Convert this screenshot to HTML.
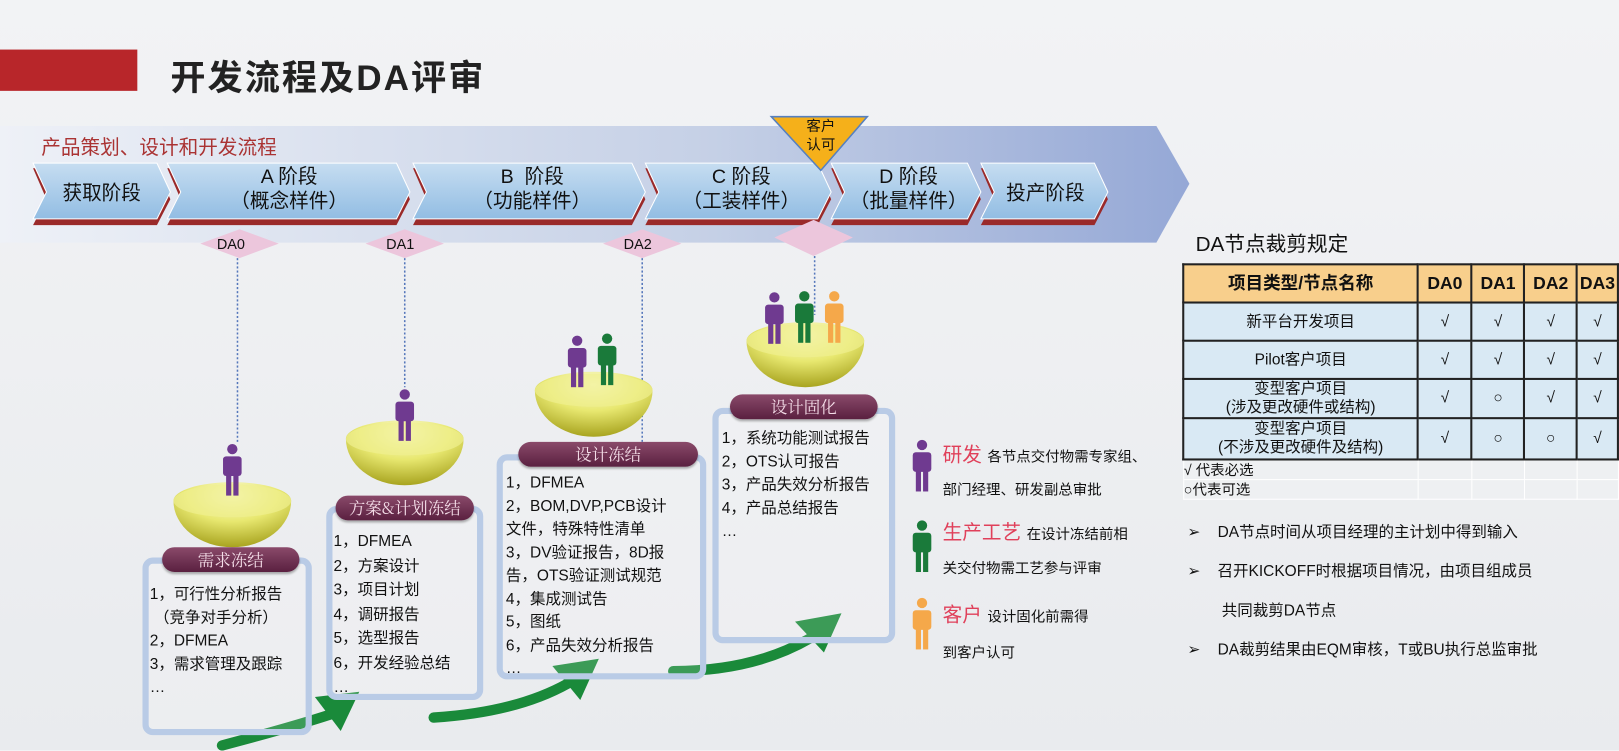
<!DOCTYPE html>
<html><head><meta charset="utf-8"><style>
*{margin:0;padding:0;box-sizing:border-box}
body{width:1619px;height:750px;overflow:hidden;position:relative;background:linear-gradient(180deg,#f2f3f5,#e9ebee);font-family:"Liberation Sans","Noto Sans CJK SC",sans-serif;color:#111}
#w{position:absolute;left:0;top:0;width:1568px;height:727px;transform:scale(1.0325);transform-origin:0 0}
.a{position:absolute}
.t{font-size:15px;line-height:22.5px;white-space:nowrap}
.pill{position:absolute;height:24px;border-radius:12px;background:linear-gradient(#8a4a6a,#5a2040);color:#f4dde8;font-family:"Noto Serif CJK SC",serif;font-size:16px;text-align:center;line-height:24px;box-shadow:0 2px 2px rgba(0,0,0,.3)}
.box{position:absolute;border:6px solid #b9cbe6;border-radius:10px;background:rgba(255,255,255,.15)}
table{border-collapse:collapse;position:absolute;left:1145px;top:255px;font-size:15px}
td{border:2px solid #222;text-align:center;background:#d9e9f4;line-height:18px}
tr.h td{background:#f8cf8c;font-weight:bold;font-size:17px;height:37px}
.lg td{border:1px solid #fff;background:#eef0f2;text-align:left;height:18px;font-size:14px}
.s{font-size:14px;color:#111;white-space:nowrap}
</style></head><body><div id="w">
<svg class="a" style="left:0;top:0" width="1568" height="727">
<defs>
<linearGradient id="band" x1="0" x2="1"><stop offset="0" stop-color="#eef1f7"/><stop offset=".6" stop-color="#c5d0e6"/><stop offset="1" stop-color="#95a8d6"/></linearGradient>
<linearGradient id="chev" x1="0" y1="0" x2="0" y2="1"><stop offset="0" stop-color="#c6ddf1"/><stop offset="1" stop-color="#92bde3"/></linearGradient>
<radialGradient id="bowl" cx=".5" cy=".2" r=".8"><stop offset="0" stop-color="#fbfbd8"/><stop offset=".5" stop-color="#e8e870"/><stop offset="1" stop-color="#a8a420"/></radialGradient>
<g id="pp"><circle cx="10" cy="5" r="5"/><rect x="1" y="12" width="18" height="19" rx="3"/><rect x="4" y="29" width="5" height="21"/><rect x="11" y="29" width="5" height="21"/></g>
<g id="bw"><path d="M-57 0 A57 18 0 0 1 57 0 A57 45 0 0 1 -57 0Z" fill="url(#bowl)"/><ellipse cx="0" cy="0" rx="57" ry="16" fill="#f0f090" opacity=".7"/></g>
</defs>
<rect x="0" y="48" width="133" height="40" fill="#b8262a"/>
<path d="M0 122 H1120 L1152 178 L1120 235 H0Z" fill="url(#band)"/>
<g fill="#9a2a2a">
<path d="M32 163 H152 L165 193 L152 218 H32 L45 193Z"/>
<path d="M162 163 H384 L397 193 L384 218 H162 L175 193Z"/>
<path d="M400 163 H612 L625 193 L612 218 H400 L413 193Z"/>
<path d="M625 163 H792 L805 193 L792 218 H625 L638 193Z"/>
<path d="M805 163 H937 L950 193 L937 218 H805 L818 193Z"/>
<path d="M950 163 H1060 L1073 193 L1060 218 H950 L963 193Z"/>
</g>
<g fill="url(#chev)" stroke="#fff" stroke-width="1">
<path d="M32 158 H152 L165 186 L152 212 H32 L45 186Z"/>
<path d="M162 158 H384 L397 186 L384 212 H162 L175 186Z"/>
<path d="M400 158 H612 L625 186 L612 212 H400 L413 186Z"/>
<path d="M625 158 H792 L805 186 L792 212 H625 L638 186Z"/>
<path d="M805 158 H937 L950 186 L937 212 H805 L818 186Z"/>
<path d="M950 158 H1060 L1073 186 L1060 212 H950 L963 186Z"/>
</g>
<path d="M747 113 H840 L795 165Z" fill="#f5b01a" stroke="#5580c0" stroke-width="1.5"/>
<g fill="#ecc6dc"><path d="M232 222 L270 236 L232 250 L194 236Z"/><path d="M392 222 L430 236 L392 250 L354 236Z"/><path d="M622 222 L660 236 L622 250 L584 236Z"/><path d="M788 213 L826 230 L788 248 L750 230Z"/></g>
<g stroke="#5577bb" stroke-width="1.5" stroke-dasharray="2 2" fill="none"><path d="M230 250 V430"/><path d="M392 250 V375"/><path d="M622 250 V428"/><path d="M789 248 V305"/></g>
<g fill="none" stroke="#1a8a3a" stroke-width="10" stroke-linecap="round"><path d="M215 722 Q280 705 320 692"/><path d="M420 695 Q500 690 550 662"/><path d="M652 650 Q730 650 785 618"/></g>
<g fill="#1a8a3a"><path d="M305 675 L348 670 L330 708Z"/><path d="M535 645 L580 638 L562 678Z"/><path d="M770 602 L815 594 L798 632Z"/></g>
<use href="#bw" x="225" y="485"/><use href="#bw" x="392" y="425"/><use href="#bw" x="575" y="378"/><use href="#bw" x="780" y="330"/>
<use href="#pp" x="215" y="430" fill="#6f3a90"/>
<use href="#pp" x="382" y="377" fill="#6f3a90"/>
<use href="#pp" x="549" y="325" fill="#6f3a90"/><use href="#pp" x="578" y="323" fill="#1a7a3a"/>
<use href="#pp" x="740" y="283" fill="#6f3a90"/><use href="#pp" x="769" y="282" fill="#1a7a3a"/><use href="#pp" x="798" y="282" fill="#f5a84a"/>
<use href="#pp" x="883" y="426" fill="#6f3a90"/>
<use href="#pp" x="883" y="504" fill="#1a7a3a"/>
<use href="#pp" x="883" y="579" fill="#f5a84a"/>
</svg>
<div class="a" style="left:165px;top:48px;font-size:34px;font-weight:bold;letter-spacing:2px;color:#222">开发流程及DA评审</div>
<div class="a" style="left:40px;top:128px;font-size:19px;color:#a33">产品策划、设计和开发流程</div>
<div class="a" style="left:32px;top:172px;width:133px;text-align:center;font-size:19px">获取阶段</div>
<div class="a" style="left:170px;top:160px;width:220px;text-align:center;font-size:19px;line-height:24px">A 阶段<br>（概念样件）</div>
<div class="a" style="left:408px;top:160px;width:215px;text-align:center;font-size:19px;line-height:24px">B &nbsp;阶段<br>（功能样件）</div>
<div class="a" style="left:633px;top:160px;width:170px;text-align:center;font-size:19px;line-height:24px">C 阶段<br>（工装样件）</div>
<div class="a" style="left:810px;top:160px;width:140px;text-align:center;font-size:19px;line-height:24px">D 阶段<br>（批量样件）</div>
<div class="a" style="left:955px;top:172px;width:115px;text-align:center;font-size:19px">投产阶段</div>
<div class="a" style="left:770px;top:113px;font-size:14px;line-height:18px;text-align:center;width:50px">客户<br>认可</div>
<div class="a" style="left:210px;top:228px;font-size:14px">DA0</div>
<div class="a" style="left:374px;top:228px;font-size:14px">DA1</div>
<div class="a" style="left:604px;top:228px;font-size:14px">DA2</div>

<div class="box" style="left:138px;top:540px;width:164px;height:172px"></div>
<div class="pill" style="left:157px;top:530px;width:133px">需求冻结</div>
<div class="a t" style="left:145px;top:565px">1，可行性分析报告<br>&nbsp;（竞争对手分析）<br>2，DFMEA<br>3，需求管理及跟踪<br>…</div>
<div class="box" style="left:316px;top:490px;width:152px;height:188px"></div>
<div class="pill" style="left:325px;top:480px;width:134px">方案&amp;计划冻结</div>
<div class="a t" style="left:323px;top:513px;line-height:23.5px">1，DFMEA<br>2，方案设计<br>3，项目计划<br>4，调研报告<br>5，选型报告<br>6，开发经验总结<br>…</div>
<div class="box" style="left:481px;top:440px;width:203px;height:218px"></div>
<div class="pill" style="left:502px;top:428px;width:174px">设计冻结</div>
<div class="a t" style="left:490px;top:457px">1，DFMEA<br>2，BOM,DVP,PCB设计<br>文件，特殊特性清单<br>3，DV验证报告，8D报<br>告，OTS验证测试规范<br>4，集成测试告<br>5，图纸<br>6，产品失效分析报告<br>…</div>
<div class="box" style="left:690px;top:395px;width:177px;height:228px"></div>
<div class="pill" style="left:707px;top:382px;width:143px">设计固化</div>
<div class="a t" style="left:699px;top:414px">1，系统功能测试报告<br>2，OTS认可报告<br>3，产品失效分析报告<br>4，产品总结报告<br>…</div>

<div class="a" style="left:913px;top:426px;font-size:19px;color:#e0405a;white-space:nowrap">研发 <span class="s">各节点交付物需专家组、</span></div>
<div class="a s" style="left:913px;top:464px">部门经理、研发副总审批</div>
<div class="a" style="left:913px;top:501px;font-size:19px;color:#e0405a;white-space:nowrap">生产工艺 <span class="s">在设计冻结前相</span></div>
<div class="a s" style="left:913px;top:540px">关交付物需工艺参与评审</div>
<div class="a" style="left:913px;top:581px;font-size:19px;color:#e0405a;white-space:nowrap">客户 <span class="s">设计固化前需得</span></div>
<div class="a s" style="left:913px;top:622px">到客户认可</div>

<div class="a" style="left:1158px;top:220px;font-size:20px">DA节点裁剪规定</div>
<table>
<tr class="h"><td style="width:253px">项目类型/节点名称</td><td style="width:54px">DA0</td><td style="width:53px">DA1</td><td style="width:53px">DA2</td><td style="width:40px">DA3</td></tr>
<tr><td style="height:37px">新平台开发项目</td><td>√</td><td>√</td><td>√</td><td>√</td></tr>
<tr><td style="height:37px">Pilot客户项目</td><td>√</td><td>√</td><td>√</td><td>√</td></tr>
<tr><td style="height:38px">变型客户项目<br>(涉及更改硬件或结构)</td><td>√</td><td>○</td><td>√</td><td>√</td></tr>
<tr><td style="height:40px">变型客户项目<br>(不涉及更改硬件及结构)</td><td>√</td><td>○</td><td>○</td><td>√</td></tr>
<tr class="lg"><td>√ 代表必选</td><td></td><td></td><td></td><td></td></tr>
<tr class="lg"><td>○代表可选</td><td></td><td></td><td></td><td></td></tr>
</table>
<div class="a" style="left:1150px;top:497px;font-size:15px;line-height:38px;white-space:nowrap">➢&nbsp;&nbsp;&nbsp;&nbsp;DA节点时间从项目经理的主计划中得到输入<br>➢&nbsp;&nbsp;&nbsp;&nbsp;召开KICKOFF时根据项目情况，由项目组成员<br>&nbsp;&nbsp;&nbsp;&nbsp;&nbsp;&nbsp;&nbsp;&nbsp;共同裁剪DA节点<br>➢&nbsp;&nbsp;&nbsp;&nbsp;DA裁剪结果由EQM审核，T或BU执行总监审批</div>
</div></body></html>
